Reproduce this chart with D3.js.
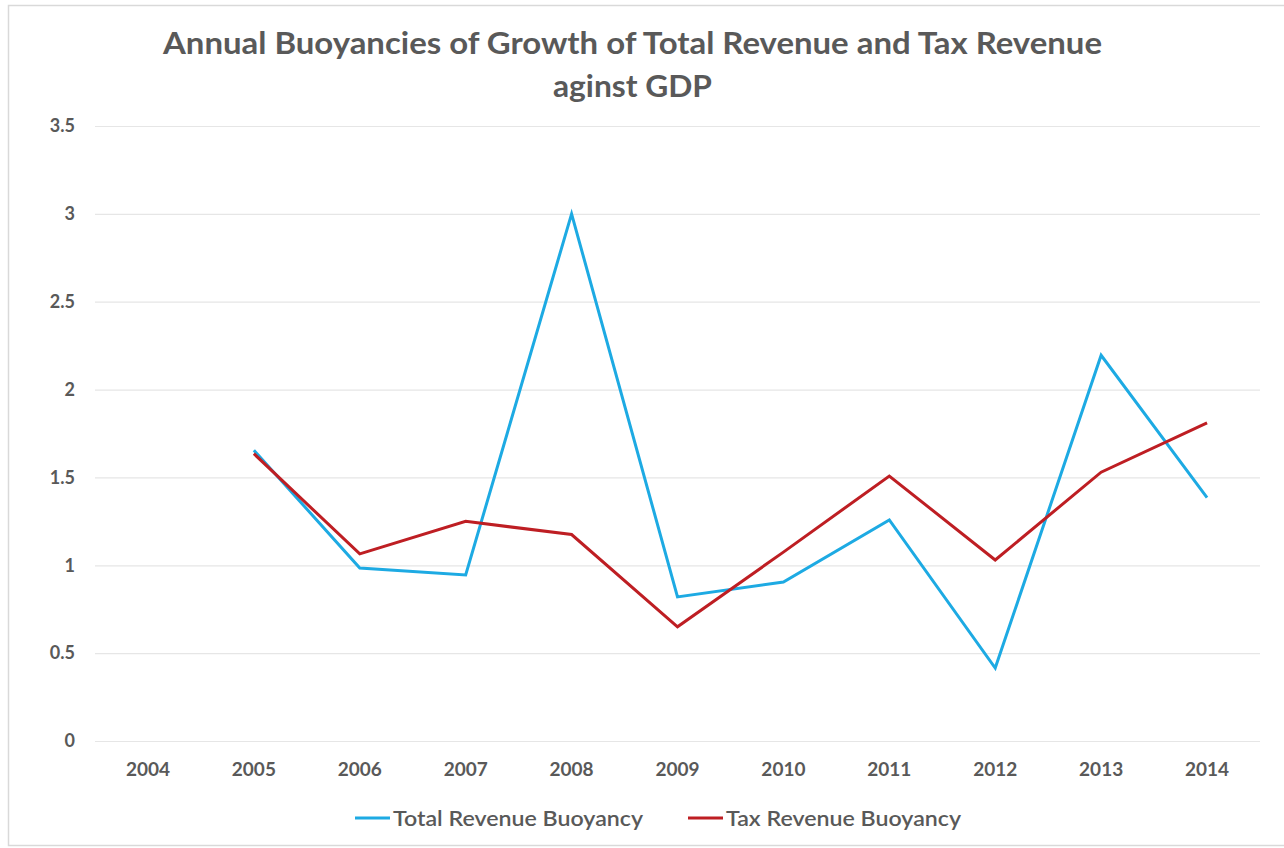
<!DOCTYPE html>
<html><head><meta charset="utf-8">
<script src="https://cdn.jsdelivr.net/npm/d3@7"></script>
<style>html,body{margin:0;padding:0;background:#fff;}svg{display:block;}</style>
</head><body>
<script>
const years = ["2004","2005","2006","2007","2008","2009","2010","2011","2012","2013","2014"];
const totalRevenue = [null,1.655,0.985,0.945,3.0,0.82,0.905,1.258,0.415,2.195,1.385];
const taxRevenue   = [null,1.635,1.065,1.25,1.175,0.65,1.075,1.508,1.03,1.53,1.81];
const yTicks = [0,0.5,1,1.5,2,2.5,3,3.5];
const seriesNames = ["Total Revenue Buoyancy","Tax Revenue Buoyancy"];
const seriesColors = ["#1DAAE3","#BE1E23"];
const titleLines = ["Annual Buoyancies of Growth of Total Revenue and Tax Revenue","aginst GDP"];

const W=1284,H=848;
const svg=d3.select("body").append("svg").attr("width",W).attr("height",H);
svg.append("rect").attr("x",8.5).attr("y",5.5).attr("width",W).attr("height",840).attr("fill","#fff").attr("stroke","#d9d9d9").attr("stroke-width",1.5);

const x=d3.scaleBand().domain(years).range([95,1260]);
const y=d3.scaleLinear().domain([0,3.5]).range([741,126]);
const font="Lato, 'Open Sans', sans-serif";
const grey="#595959";

// title
svg.append("text").attr("x",632.5).attr("y",54).attr("text-anchor","middle")
  .attr("font-family",font).attr("font-weight","bold").attr("font-size",30).attr("fill",grey)
  .attr("textLength",939).attr("lengthAdjust","spacingAndGlyphs").text(titleLines[0]);
svg.append("text").attr("x",632.5).attr("y",97).attr("text-anchor","middle")
  .attr("font-family",font).attr("font-weight","bold").attr("font-size",30).attr("fill",grey)
  .attr("textLength",159).attr("lengthAdjust","spacingAndGlyphs").text(titleLines[1]);

// y grid & labels
const yAxis=d3.axisLeft(y).tickValues(yTicks).tickSize(-(1260-95)).tickPadding(20).tickFormat(d3.format("~g"));
const gy=svg.append("g").attr("transform","translate(95,0)").call(yAxis);
gy.select(".domain").remove();
gy.selectAll(".tick line").attr("stroke","#e6e6e6").attr("stroke-width",1.2);
gy.selectAll(".tick text").attr("font-family",font).attr("font-weight","bold").attr("font-size",18).attr("fill",grey);

// x labels
const xAxis=d3.axisBottom(x).tickSize(0).tickPadding(22);
const gx=svg.append("g").attr("transform","translate(0,741)").call(xAxis);
gx.select(".domain").remove();
gx.selectAll(".tick text").attr("font-family",font).attr("font-weight","bold").attr("font-size",19).attr("fill",grey);

// lines
const line=d3.line().defined(d=>d.v!=null).x(d=>x(d.k)+x.bandwidth()/2).y(d=>y(d.v));
[totalRevenue,taxRevenue].forEach((s,i)=>{
  svg.append("path").datum(years.map((k,j)=>({k,v:s[j]})))
    .attr("d",line).attr("fill","none").attr("stroke",seriesColors[i]).attr("stroke-width",3)
    .attr("stroke-linejoin","miter");
});

// legend
const legX=[355,688];
const legLen=[250,235];
seriesNames.forEach((n,i)=>{
  svg.append("line").attr("x1",legX[i]).attr("x2",legX[i]+35).attr("y1",818).attr("y2",818)
    .attr("stroke",seriesColors[i]).attr("stroke-width",3);
  svg.append("text").attr("x",legX[i]+38).attr("y",826).attr("font-family",font).attr("font-size",21)
    .attr("fill",grey).attr("font-weight","600")
    .attr("textLength",legLen[i]).attr("lengthAdjust","spacingAndGlyphs").text(n);
});
</script>
</body></html>
